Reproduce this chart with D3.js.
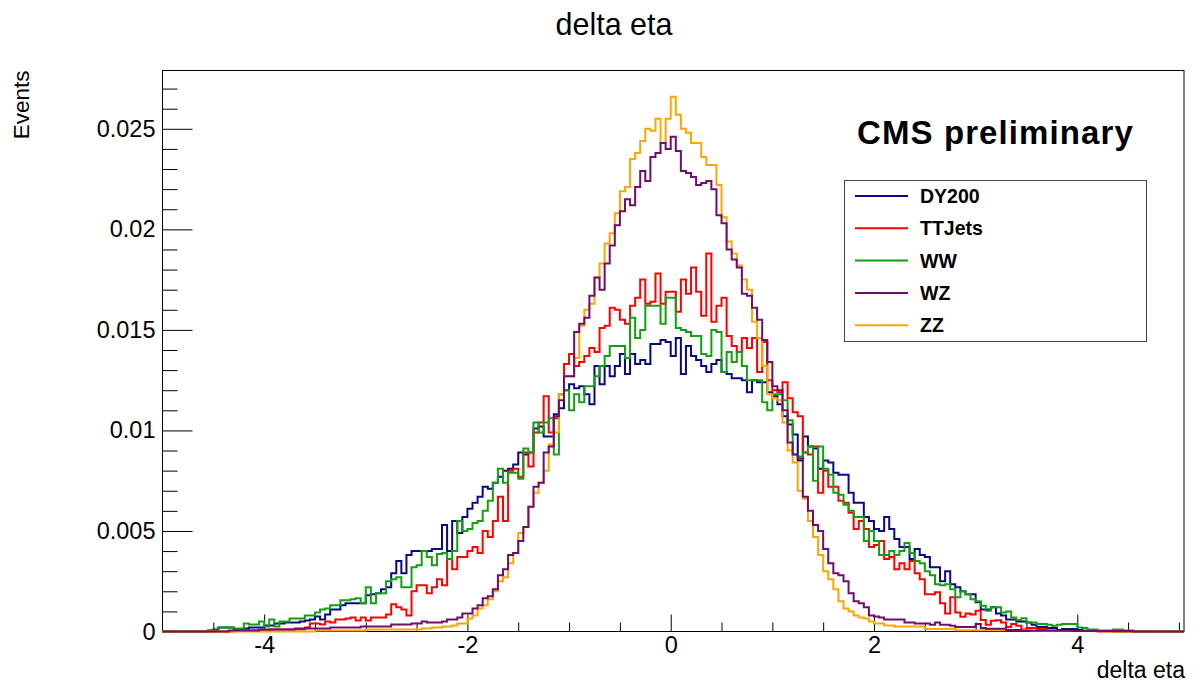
<!DOCTYPE html>
<html>
<head>
<meta charset="utf-8">
<script src="https://cdn.jsdelivr.net/npm/d3@7"></script>
<style>
  body { margin: 0; background: #fff; }
  svg { display: block; }
</style>
</head>
<body>
<svg id="chart" width="1196" height="684"></svg>
<script>
// Histogram binning: 201 bins of width 0.05 starting at -5
const binLow = -5;
const binWidth = 0.05;

// Bin contents, in units of 1e-4 (normalised event fraction per bin)
const dy200 = [
  0,0,0,0,0,0,0,0,0,0.5,
  1,2,2,2,1,1,1.5,2,2,2,
  3,3,4,4,4.5,4.5,4.5,5,5.5,6,
  7.5,6,8.5,11,11,13,14,14,14,14,
  18,18.5,19,21,22,29,35,29,38,40,
  40,40,40,41,41,53,40,55,49,57,
  61,64,67,72,71,74,77,80,81,83,
  89,88,89,101,102,97,97,108,111,120,
  123,121,122,118,113,132,123,132,127,132,
  138,128,138,133,135,133,143,143,145,144,
  137,146,128,142,137,135,132,129,133,135,
  129,128,126,126,125,119,125,124,124,119,
  117,113,107,103,98,85,97,92,91,81,
  85,84,79,78,78,69,64,64,57,55,
  51,50,57,51,46,42,42,36,41,38,
  37,32,32,25,30,23.5,22,20,18.5,18.5,
  14.5,11,11,12,9,8,6,6,5,5,
  4.5,3.3,2.3,2.3,1.8,1.8,0.8,1.3,1.3,1.3,
  0.8,0.4,0.4,0.2,0.2,0.2,0.2,0,0,0,
  0,0,0,0,0,0,0,0,0,0,
  0
];
const ttjets = [
  0,0,0,0,0,0,0,0,0,0,
  0,0,0,0,0.3,0.5,0.5,0.5,0.5,0.5,
  0.5,1,1,1,1,1,1,1,2,4,
  4,3.5,5,4.5,6,6,6.5,7,5.5,7,
  5.5,7,7,7,8.5,13.5,12,11,8,20,
  23,23,19,22,26,23,36,31,37,37,
  40,42,39,50,47,55,67,55,80,81,
  77,89,82,99,104,117,99,106,118,133,
  138,132,134,137,141,139,151,152,161,160,
  155,153,162,166,175,163,164,178,163,169,
  169,159,175,168,181,169,157,188,154,162,
  166,147,142,139,146,141,146,129,144,125,
  120,119,124,116,109,107,89,88,92,69,
  80,72,72,65,64,59,51,55,51,42,
  43,45,36,37,31,34,31,35,29,26,
  18.5,18.5,19.5,14,9,17,9.5,7.3,9,8.4,
  10.3,5.7,3.3,5.3,5.6,4.5,2.3,3.7,2.8,1,
  1.8,1.8,1.3,1.3,0.5,0.5,0.2,0.2,0.2,0.2,
  0.2,0.2,0.2,0.2,0,0,0,0,0,0,
  0,0,0,0,0,0,0,0,0,0,
  0
];
const ww = [
  0,0,0,0,0,0,0,0,0,0.5,
  0.5,2,2,2,1.5,1.5,4,3.5,3.5,5,
  2.5,6,2.5,5,5,6.5,6.5,6.5,8,8,
  9.5,11,11.5,13,13,15.5,15.5,16,16.5,14,
  22,14,19,19,25,26,27,22,22,32,
  33,40,37,33,38.5,39,36,40,55,50,
  51,54,55,60,65,74,81,74,79,79,
  76,91,89,104,99,104,106,88,118,120,
  110,118,114,122,122,127,132,137,142,142,
  142,136,156,146,150,162,162,162,153,166,
  166,151,150,149,147,147,138,137,150,149,
  129,139,134,139,132,125,125,125,114,110,
  118,118,115,105,88,87,89,92,75,92,
  81,78,69,68,63,60,57,57,45,50,
  45,38,38,40,38,40,44,39,35,34,
  30,28,23.5,23,23.5,21,17,20,18.5,16,
  15,12.8,10.3,12,12,9.4,10,7,5.7,6.6,
  4.5,4.5,3.7,3.7,3.3,2.8,3.3,3.7,3.7,3.7,
  2,1.7,1,1,0.5,0.5,0.5,1,1,0.5,
  0.5,0.2,0,0,0,0,0,0,0,0,
  0
];
const wz = [
  0,0,0,0,0,0,0,0,0,0,
  0,0,0,0.5,0.5,0.5,0.5,0.5,0.5,1,
  1,1,1,1,1,1,1.5,1.5,1.5,1.5,
  1.5,1.5,1.5,2,2,2,2,2,2,2.5,
  2.5,2.5,2.5,2.5,2.5,3.5,3.5,3.5,3.5,4,
  4,5,4.5,4.5,4.5,5,6,6,7,9,
  9,11.5,13,16.5,17.5,21,28,31,38,39,
  45,52,62,72,74,89,92,107,115,127,
  127,149,153,156,167,176,170,183,192,202,
  209,215,212,221,229,224,236,238,243,240,
  246,239,229,228,226,222,223,224,220,207,
  203,190,185,181,168,167,161,155,145,134,
  122,120,110,94,88,86,67,60,53,50,
  41,34,29,28,25,19,15,14,12,8,
  7.5,7,6,6,6,6,4.5,4.5,4,4,
  4,3.3,4.5,3.3,3.3,2.8,2.3,2.3,2.3,2.3,
  3.7,1.8,1.4,1.4,1.4,1.4,0.8,0.8,0.8,0.4,
  0.4,0.4,0.4,0.4,0.4,0.4,0.4,0.4,0.4,0.2,
  0.2,0.2,0.2,0.2,0.2,0.2,0.2,0.2,0.2,0.2,
  0.2,0,0,0,0,0,0,0,0,0,
  0
];
const zz = [
  0,0,0,0,0,0,0,0,0,0,
  0,0,0,0,0,0,0,0,0,0,
  0,0,0,0,0,0,0,0,0,0,
  0.5,0.5,0.5,0.5,0.5,0.5,0.5,0.5,0.5,0.5,
  1,1,1,1,1,1,1,1,1,1,
  1,1.5,1.5,2,2,2.5,2.5,3,4,4,
  6.5,8,11.5,13,16,20,25,27,34,39,
  49,52,62,69,74,80,93,99,118,127,
  127,136,152,160,163,176,183,193,198,208,
  219,221,235,238,244,250,249,255,243,255,
  266,257,250,248,243,243,236,232,232,222,
  206,194,188,182,175,170,154,146,132,118,
  116,115,104,90,84,70,66,55,47,38,
  30,26,21,15,11.5,10,8,7,6.5,5,
  4,4,3,3,2.5,2.5,2.5,2.5,2.5,2.5,
  1.2,1.2,1.2,1.2,1.2,1.2,0.6,0.6,0.6,0.6,
  0.6,0.6,0.6,0.6,0.6,0.6,0.6,0.6,0.6,0.6,
  0.6,0.3,0.3,0.3,0.3,0.3,0.3,0.3,0.3,0.3,
  0.3,0.3,0.3,0.3,0.3,0.3,0,0,0,0,
  0,0,0,0,0,0,0,0,0,0,
  0
];
const valueUnit = 1e-4;

const seriesNames  = ["DY200", "TTJets", "WW", "WZ", "ZZ"];
const seriesValues = [dy200, ttjets, ww, wz, zz];
const seriesColors = ["#0a0a80", "#ff0000", "#12a012", "#6e0e6e", "#ffa500"];
// drawing order (WZ last so it sits on top along the baseline)
const drawOrder = [0, 1, 2, 4, 3];

const xMajorTicks = [-4, -2, 0, 2, 4];
const xTickLabels = ["-4", "-2", "0", "2", "4"];
const yMajorTicks = [0, 0.005, 0.01, 0.015, 0.02, 0.025];
const yTickLabels = ["0", "0.005", "0.01", "0.015", "0.02", "0.025"];

const titleText = "delta eta";
const xTitle = "delta eta";
const yTitle = "Events";
const stampText = "CMS preliminary";

// ---------------------------------------------------------------
const nBins = dy200.length;
const xMax = binLow + nBins * binWidth;
const frame = { left: 162.5, right: 1184, top: 70.5, bottom: 631.5 };
const FONT = "'Liberation Sans', Arial, Helvetica, sans-serif";

const svg = d3.select("#chart");
const x = d3.scaleLinear().domain([binLow, xMax]).range([frame.left, frame.right]);
const y = d3.scaleLinear().domain([0, 0.0279]).range([frame.bottom, frame.top]);

// Title
svg.append("text")
  .attr("x", 614).attr("y", 35)
  .attr("text-anchor", "middle")
  .style("font-family", FONT).style("font-size", "30.5px")
  .text(titleText);

// Frame
svg.append("rect")
  .attr("x", frame.left).attr("y", frame.top)
  .attr("width", frame.right - frame.left).attr("height", frame.bottom - frame.top)
  .attr("fill", "none").attr("stroke", "#000").attr("stroke-width", 1);

// X axis: major ticks with labels, minor ticks every 0.5
const xMinor = d3.range(-4.5, 5.01, 0.5).filter(v => Math.abs(v / 2 - Math.round(v / 2)) > 1e-6);
const gxMinor = svg.append("g").attr("transform", `translate(0,${frame.bottom})`)
  .call(d3.axisBottom(x).tickValues(xMinor).tickSize(-9).tickFormat(""));
const gx = svg.append("g").attr("transform", `translate(0,${frame.bottom})`)
  .call(d3.axisBottom(x).tickValues(xMajorTicks).tickSize(-17).tickPadding(5)
        .tickFormat((d, i) => xTickLabels[i]));

// Y axis: major ticks every 0.005 with labels, minor every 0.001
const yMinor = d3.range(0.001, 0.02791, 0.001).filter(v => Math.abs(v / 0.005 - Math.round(v / 0.005)) > 1e-6);
const gyMinor = svg.append("g").attr("transform", `translate(${frame.left},0)`)
  .call(d3.axisLeft(y).tickValues(yMinor).tickSize(-15).tickFormat(""));
const gy = svg.append("g").attr("transform", `translate(${frame.left},0)`)
  .call(d3.axisLeft(y).tickValues(yMajorTicks).tickSize(-30).tickPadding(7)
        .tickFormat((d, i) => yTickLabels[i]));

[gxMinor, gx, gyMinor, gy].forEach(g => {
  g.select(".domain").remove();
  g.selectAll(".tick line").attr("stroke", "#000").attr("stroke-width", 1);
  g.selectAll("text").style("font-family", FONT).style("font-size", "23.5px").attr("fill", "#000");
});

// Axis titles
svg.append("text")
  .attr("x", frame.right + 1).attr("y", 678)
  .attr("text-anchor", "end")
  .style("font-family", FONT).style("font-size", "23px")
  .text(xTitle);
svg.append("text")
  .attr("transform", `translate(29,${frame.top}) rotate(-90)`)
  .attr("text-anchor", "end")
  .style("font-family", FONT).style("font-size", "22.5px")
  .text(yTitle);

// Histograms drawn as step outlines
const stepLine = d3.line()
  .x(d => x(d[0]))
  .y(d => y(d[1]))
  .curve(d3.curveStepAfter);

drawOrder.forEach(si => {
  const vals = seriesValues[si];
  const pts = vals.map((v, i) => [binLow + i * binWidth, v * valueUnit]);
  pts.push([xMax, vals[vals.length - 1] * valueUnit]);
  svg.append("path")
    .attr("d", stepLine(pts))
    .attr("fill", "none")
    .attr("stroke", seriesColors[si])
    .attr("stroke-width", 2)
    .attr("stroke-linejoin", "miter");
});

// CMS stamp
svg.append("text")
  .attr("x", 857).attr("y", 144)
  .style("font-family", FONT).style("font-size", "33px").style("font-weight", "bold")
  .style("letter-spacing", "1.1px")
  .text(stampText);

// Legend
const legend = svg.append("g");
legend.append("rect")
  .attr("x", 844.5).attr("y", 180.5).attr("width", 302).attr("height", 161)
  .attr("fill", "#fff").attr("stroke", "#444").attr("stroke-width", 1);
seriesNames.forEach((name, i) => {
  const ly = 196 + i * 32.3;
  legend.append("line")
    .attr("x1", 855).attr("x2", 908).attr("y1", ly).attr("y2", ly)
    .attr("stroke", seriesColors[i]).attr("stroke-width", 2);
  legend.append("text")
    .attr("x", 920).attr("y", ly).attr("dy", "0.36em")
    .style("font-family", FONT).style("font-size", "19.5px").style("font-weight", "bold")
    .text(name);
});
</script>
</body>
</html>
